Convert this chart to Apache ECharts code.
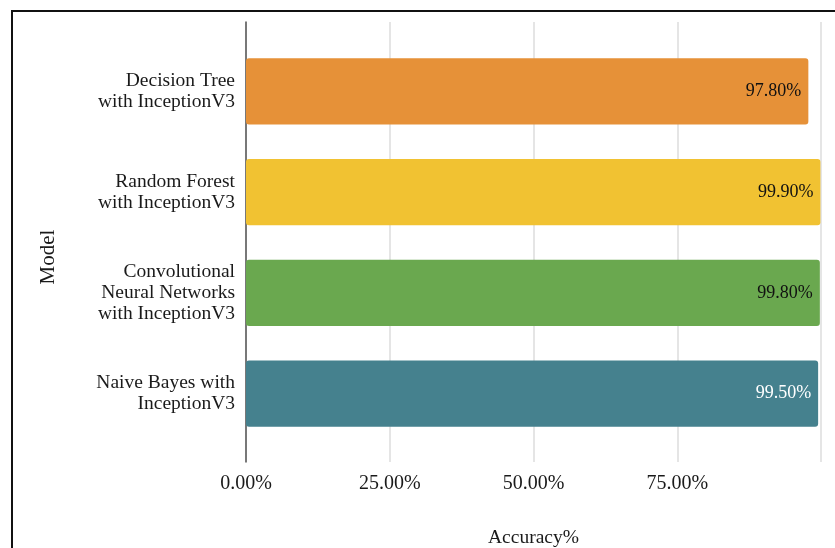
<!DOCTYPE html>
<html>
<head>
<meta charset="utf-8">
<script src="https://cdn.jsdelivr.net/npm/echarts@6/dist/echarts.min.js"></script>
<style>
  html, body { margin: 0; padding: 0; background: #fff; }
  #chart { width: 835px; height: 548px; }
</style>
</head>
<body>
<div id="chart"></div>
<script>
// Model accuracy with InceptionV3 features
const models = [
  'Decision Tree\nwith InceptionV3',
  'Random Forest\nwith InceptionV3',
  'Convolutional\nNeural Networks\nwith InceptionV3',
  'Naive Bayes with\nInceptionV3'
];
const accuracy = [97.8, 99.9, 99.8, 99.5];
const barColors = ['#e69138', '#f1c232', '#6aa84f', '#45818e'];
const labelColors = ['#111', '#111', '#111', '#fff'];
const xTicks = [0, 25, 50, 75];

const serif = 'Liberation Serif';
const chart = echarts.init(document.getElementById('chart'));

chart.setOption({
  animation: false,
  textStyle: { fontFamily: serif },
  grid: [
    { left: 246, top: 22, width: 575, height: 440, outerBoundsMode: 'none', containLabel: false },
    { left: 246, top: 41, width: 575, height: 403, outerBoundsMode: 'none', containLabel: false }
  ],
  xAxis: [
    {
      gridIndex: 0, type: 'value', min: 0, max: 100, interval: 25,
      axisLine: { show: false }, axisTick: { show: false },
      axisLabel: {
        margin: 12, fontSize: 20, color: '#1a1a1a', fontFamily: serif,
        formatter: v => xTicks.includes(v) ? v.toFixed(2) + '%' : ''
      },
      splitLine: { show: true, lineStyle: { color: '#dcdcdc', width: 1.5 } },
      name: 'Accuracy%', nameLocation: 'middle', nameGap: 66,
      nameTextStyle: { fontSize: 19.5, color: '#1a1a1a', fontFamily: serif }
    },
    {
      gridIndex: 1, type: 'value', min: 0, max: 100, show: false
    }
  ],
  yAxis: [
    {
      gridIndex: 0, type: 'value', min: 0, max: 1,
      axisLine: { show: true, lineStyle: { color: '#555', width: 1.5 } },
      axisTick: { show: false }, axisLabel: { show: false },
      splitLine: { show: false }
    },
    {
      gridIndex: 1, type: 'category', data: models, inverse: true,
      axisLine: { show: false }, axisTick: { show: false },
      axisLabel: {
        margin: 11, fontSize: 19.5, lineHeight: 21, color: '#1a1a1a',
        fontFamily: serif, align: 'right'
      }
    }
  ],
  series: [{
    type: 'bar',
    xAxisIndex: 1, yAxisIndex: 1,
    barCategoryGap: '34%',
    data: accuracy.map((v, i) => ({
      value: v,
      itemStyle: { color: barColors[i], borderRadius: 3 },
      label: { color: labelColors[i] }
    })),
    label: {
      show: true, position: 'insideRight', distance: 7,
      fontSize: 18, fontFamily: serif,
      formatter: p => p.value.toFixed(2) + '%'
    }
  }],
  graphic: [
    {
      type: 'text', x: 48, y: 257, rotation: Math.PI / 2,
      style: {
        text: 'Model', fontSize: 21, fontFamily: serif, fill: '#1a1a1a',
        align: 'center', verticalAlign: 'middle'
      }
    },
    {
      type: 'rect', shape: { x: 12, y: 11, width: 840, height: 560 },
      style: { fill: 'none', stroke: '#111', lineWidth: 2 }
    }
  ]
});
</script>
</body>
</html>
